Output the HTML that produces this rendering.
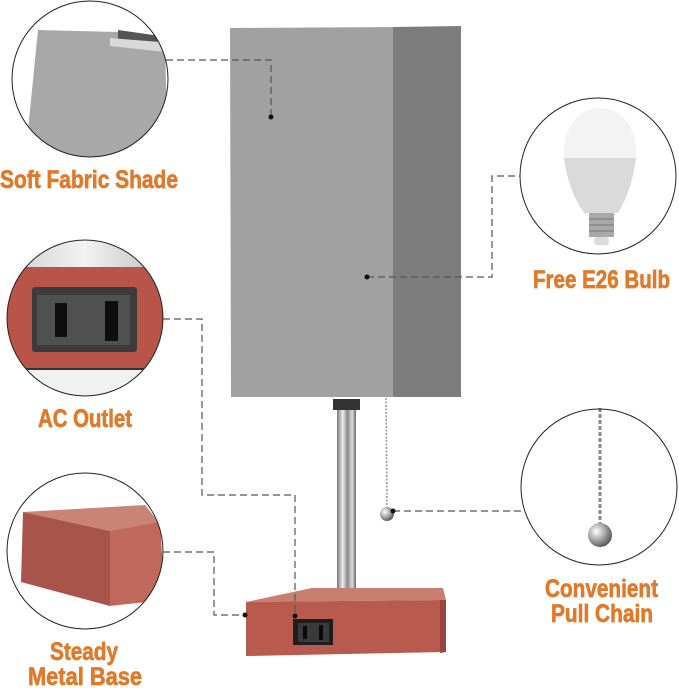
<!DOCTYPE html>
<html><head><meta charset="utf-8"><style>
html,body{margin:0;padding:0;background:#fff;width:679px;height:688px;overflow:hidden}
svg{display:block}
.lb{font-family:"Liberation Sans Narrow","Liberation Sans",sans-serif;font-weight:bold;font-size:25px;fill:#e07a2a;stroke:#e07a2a;stroke-width:0.7}
</style></head><body>
<svg width="679" height="688" viewBox="0 0 679 688" xmlns="http://www.w3.org/2000/svg">
<defs>
<clipPath id="c1"><circle cx="90" cy="79" r="78"/></clipPath>
<clipPath id="c2"><circle cx="85" cy="318" r="78"/></clipPath>
<clipPath id="c3"><circle cx="85" cy="551" r="78"/></clipPath>
<clipPath id="c4"><circle cx="598" cy="176" r="78"/></clipPath>
<linearGradient id="stem" x1="0" x2="1"><stop offset="0" stop-color="#777"/><stop offset="0.3" stop-color="#eee"/><stop offset="0.55" stop-color="#888"/><stop offset="0.8" stop-color="#ddd"/><stop offset="1" stop-color="#666"/></linearGradient>
<radialGradient id="ball" cx="0.35" cy="0.35" r="0.7"><stop offset="0" stop-color="#fff"/><stop offset="0.5" stop-color="#aaa"/><stop offset="1" stop-color="#555"/></radialGradient>
<linearGradient id="silver" x1="0" x2="1"><stop offset="0" stop-color="#ccc"/><stop offset="0.5" stop-color="#f2f2f2"/><stop offset="1" stop-color="#bbb"/></linearGradient>
</defs>

<polygon points="230,28 393,27 393,397 231,397" fill="#a1a1a1"/>
<polygon points="393,27 461,26 461,397 393,397" fill="#7d7d7d"/>
<rect x="333" y="399" width="27" height="11" fill="#333"/>
<rect x="337" y="410" width="19" height="190" fill="url(#stem)"/>
<line x1="386" y1="398" x2="387" y2="507" stroke="#999" stroke-width="1.6" stroke-dasharray="2,1.5"/>
<circle cx="387" cy="514" r="7" fill="url(#ball)"/>
<polygon points="246,602 312,588 443,588 446,600" fill="#c87e70"/>
<polygon points="246,602 446,600 446,652 246,656" fill="#b85a4d"/>
<polygon points="440,600 446,600 446,652 440,653" fill="#9a463c"/>
<rect x="293" y="619" width="40" height="26" fill="#1e1e1e"/>
<rect x="298" y="623" width="31" height="19" fill="#3a3a3a"/>
<rect x="303" y="626" width="4" height="13" fill="#0a0a0a"/><rect x="319" y="625" width="4" height="15" fill="#0a0a0a"/>

<g clip-path="url(#c1)">
<rect x="0" y="0" width="180" height="160" fill="#fff"/>
<polygon points="38,30 118,32 165,46 168,160 25,160" fill="#a8a8a8"/>
<polygon points="118,30 160,36 168,48 118,40" fill="#555"/>
<polygon points="110,38 160,42 166,52 110,46" fill="#d9d9d9"/>
</g>
<circle cx="90" cy="79" r="78" fill="none" stroke="#222" stroke-width="1"/>

<g clip-path="url(#c2)">
<rect x="0" y="235" width="170" height="35" fill="url(#silver)"/>
<rect x="0" y="267" width="170" height="101" fill="#b85448"/>
<rect x="0" y="368" width="170" height="2" fill="#333"/>
<rect x="0" y="370" width="170" height="30" fill="#f1f1f1"/>
<rect x="32" y="287" width="105" height="65" rx="3" fill="#3c3c3c"/>
<rect x="37" y="295" width="93" height="50" fill="#505050"/>
<rect x="55" y="303" width="12" height="34" fill="#0e0e0e"/>
<rect x="105" y="301" width="13" height="40" fill="#0e0e0e"/>
</g>
<circle cx="85" cy="318" r="78" fill="none" stroke="#222" stroke-width="1"/>

<g clip-path="url(#c3)">
<rect x="0" y="470" width="170" height="165" fill="#fff"/>
<polygon points="23,512 145,505 160,524 110,531" fill="#c98476"/>
<polygon points="23,512 110,531 110,606 21,582" fill="#a8544a"/>
<polygon points="110,531 160,522 165,600 110,606" fill="#c0685b"/>
</g>
<circle cx="85" cy="551" r="78" fill="none" stroke="#222" stroke-width="1"/>

<g clip-path="url(#c4)">
<rect x="515" y="95" width="170" height="165" fill="#fff"/>
<path d="M564,158 C562,125 580,108 600,108 C620,108 638,125 636,158 L636,160 L564,160 Z" fill="#f3f3f3"/>
<path d="M564,158 L636,158 Q632,190 618,213 L584,213 Q568,190 564,158 Z" fill="#dadada"/>
<rect x="589" y="213" width="25" height="24" fill="#a8a8a8"/>
<line x1="589" y1="219" x2="614" y2="219" stroke="#777"/><line x1="589" y1="225" x2="614" y2="225" stroke="#777"/><line x1="589" y1="231" x2="614" y2="231" stroke="#777"/>
<rect x="594" y="237" width="15" height="8" rx="3" fill="#ddd"/>
</g>
<circle cx="598" cy="176" r="78" fill="none" stroke="#222" stroke-width="1"/>

<line x1="600" y1="408" x2="600" y2="524" stroke="#888" stroke-width="3" stroke-dasharray="4,2"/>
<circle cx="600" cy="535" r="12" fill="url(#ball)"/>
<circle cx="599" cy="487" r="78" fill="none" stroke="#222" stroke-width="1"/>

<g fill="none" stroke="#555" stroke-width="1.2" stroke-dasharray="7,4">
<polyline points="166,60 271,60 271,117"/>
<polyline points="367,277 492,277 492,176 520,176"/>
<polyline points="163,319 202,319 202,495 295,495 295,616"/>
<polyline points="163,552 214,552 214,615 245,615"/>
<polyline points="393,511 522,511"/>
</g>
<g fill="#111">
<circle cx="271" cy="117" r="2.5"/><circle cx="367" cy="277" r="2.5"/><circle cx="295" cy="616" r="2.5"/><circle cx="245" cy="615" r="2.5"/><circle cx="393" cy="511" r="2.5"/>
</g>

<text class="lb" x="0" y="188" textLength="178" lengthAdjust="spacingAndGlyphs">Soft Fabric Shade</text>
<text class="lb" x="533" y="288" textLength="137" lengthAdjust="spacingAndGlyphs">Free E26 Bulb</text>
<text class="lb" x="38" y="427" textLength="94" lengthAdjust="spacingAndGlyphs">AC Outlet</text>
<text class="lb" x="545" y="597" textLength="113" lengthAdjust="spacingAndGlyphs">Convenient</text>
<text class="lb" x="551" y="622" textLength="102" lengthAdjust="spacingAndGlyphs">Pull Chain</text>
<text class="lb" x="50" y="660" textLength="68" lengthAdjust="spacingAndGlyphs">Steady</text>
<text class="lb" x="28" y="685" textLength="114" lengthAdjust="spacingAndGlyphs">Metal Base</text>
</svg>
</body></html>
